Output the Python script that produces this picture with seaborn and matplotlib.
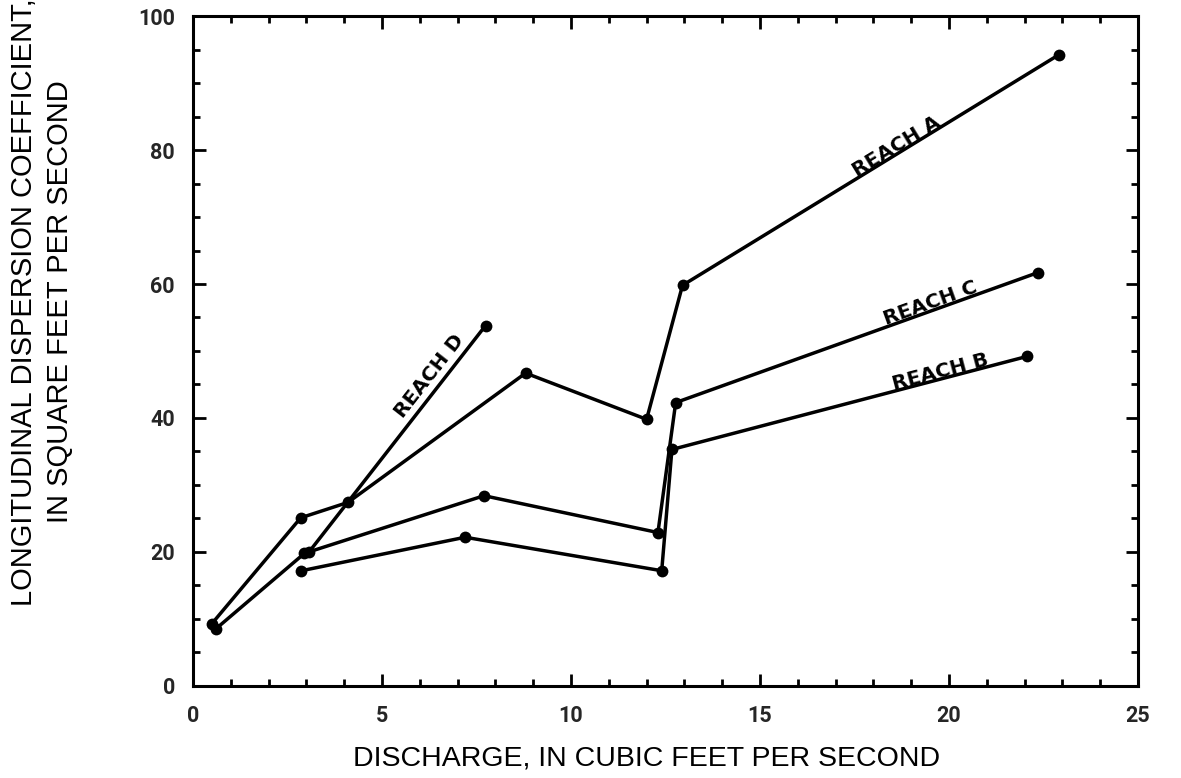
import matplotlib
matplotlib.use("Agg")
import matplotlib.pyplot as plt
import seaborn as sns
import pandas as pd
from matplotlib.ticker import MultipleLocator

# ---- data ----
reach_a_x = [0.5, 2.85, 4.1, 8.8, 12.0, 12.95, 22.9]
reach_a_y = [9.3, 25.1, 27.4, 46.7, 39.8, 59.8, 94.2]

reach_b_x = [2.87, 7.2, 12.4, 12.67, 22.07]
reach_b_y = [17.2, 22.2, 17.2, 35.3, 49.2]

reach_c_x = [0.6, 2.95, 7.7, 12.3, 12.77, 22.35]
reach_c_y = [8.5, 19.8, 28.4, 22.9, 42.3, 61.7]

reach_d_x = [3.07, 7.74]
reach_d_y = [20.0, 53.8]

reach_names = ["REACH A", "REACH B", "REACH C", "REACH D"]

x_label = "DISCHARGE, IN CUBIC FEET PER SECOND"
y_label = "LONGITUDINAL DISPERSION COEFFICIENT,\nIN SQUARE FEET PER SECOND"

# ---- build long table ----
frames = []
for name, xs, ys in zip(reach_names,
                        [reach_a_x, reach_b_x, reach_c_x, reach_d_x],
                        [reach_a_y, reach_b_y, reach_c_y, reach_d_y]):
    frames.append(pd.DataFrame({"reach": name, "discharge": xs, "coef": ys,
                                "order": range(len(xs))}))
df = pd.concat(frames, ignore_index=True)

sns.set_theme(style="ticks")
plt.rcParams["font.family"] = ["DejaVu Sans"]

fig = plt.figure(figsize=(11.81, 7.78), dpi=100)
ax = fig.add_axes([0.1634, 0.1183, 0.8002, 0.8611])

sns.lineplot(data=df, x="discharge", y="coef", units="reach", estimator=None,
             sort=False, color="black", linewidth=2.5, marker="o",
             markersize=8.5, markeredgewidth=0, ax=ax)

ax.set_xlim(0, 25)
ax.set_ylim(0, 100)
ax.xaxis.set_major_locator(MultipleLocator(5))
ax.xaxis.set_minor_locator(MultipleLocator(1))
ax.yaxis.set_major_locator(MultipleLocator(20))
ax.yaxis.set_minor_locator(MultipleLocator(5))

for s in ax.spines.values():
    s.set_visible(True)
    s.set_linewidth(2.2)
    s.set_color("black")

ax.tick_params(which="both", direction="in", top=True, right=True,
               color="black", width=2.0)
ax.tick_params(which="major", length=9, labelsize=15.5)
ax.tick_params(axis="x", which="major", pad=14)
ax.tick_params(axis="y", which="major", pad=13)
ax.tick_params(which="minor", length=5)
for lab in ax.get_xticklabels() + ax.get_yticklabels():
    lab.set_fontweight("bold")
    lab.set_family(["Roboto", "DejaVu Sans"])

label_font = ["Liberation Sans", "DejaVu Sans"]
ax.set_xlabel(x_label, fontsize=20.5, family=label_font, color="black")
ax.set_ylabel(y_label, fontsize=21, family=label_font, color="black",
              linespacing=1.35)
ax.xaxis.set_label_coords(0.480, -0.109)
ax.xaxis.label.set_verticalalignment("center")
ax.yaxis.set_label_coords(-0.160, 0.573)
ax.yaxis.label.set_verticalalignment("center")

# reach labels along their lines
label_pos = {"REACH A": (18.6, 80.6, 31.4),
             "REACH C": (19.5, 57.1, 19.8),
             "REACH B": (19.76, 46.9, 14.8),
             "REACH D": (6.25, 46.3, 52.0)}
for name, (lx, ly, rot) in label_pos.items():
    ax.text(lx, ly, name, rotation=rot, rotation_mode="anchor",
            ha="center", va="center", fontsize=14.5, fontweight="bold",
            color="black")

ax.grid(False)
fig.savefig("out.png", dpi=100, facecolor="white")
